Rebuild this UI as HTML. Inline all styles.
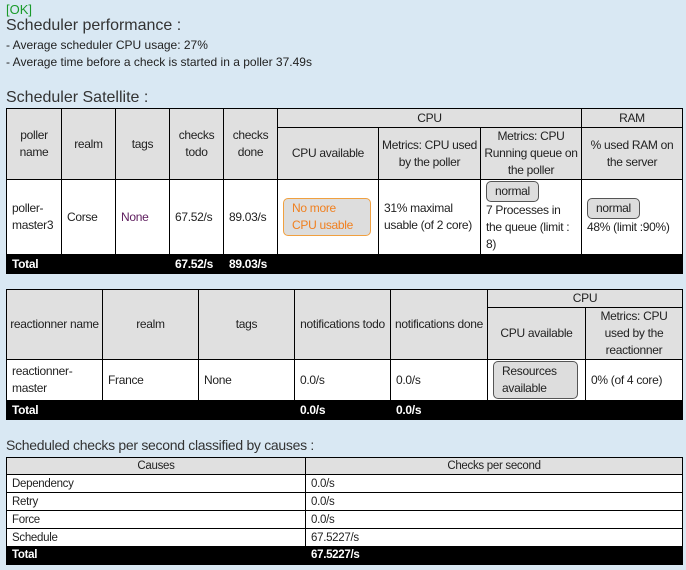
<!DOCTYPE html>
<html><head><meta charset="utf-8"><style>
*{margin:0;padding:0;box-sizing:border-box}
body{width:686px;height:570px;background:#d9e8f3;font-family:"Liberation Sans",sans-serif;font-size:12px;color:#222;position:relative;overflow:hidden}
.a{position:absolute}
table{position:absolute;border-collapse:collapse;table-layout:fixed;background:#fff}
td,th{border:1px solid #000;font-weight:normal;text-align:center;font-size:12px;line-height:17px;padding:0 2px;letter-spacing:-0.3px}
th{background:#e0e0e0}
tr.tot td{background:#000;color:#fff;font-weight:bold;text-align:left;border-color:#000;padding-left:5px;line-height:15px}
td.l{text-align:left;padding-left:5px}
.btn{display:inline-block;background:#ddd;border:1px solid #555;border-radius:5px;padding:1px 8px;text-align:left}
.t3 td,.t3 th{font-size:11.5px;line-height:16px}
</style></head><body>
<div class="a" style="left:6px;top:2px;color:#1a9a2a;font-size:13px">[OK]</div>
<div class="a" style="left:6px;top:17px;font-size:16px;color:#333">Scheduler performance :</div>
<div class="a" style="left:6px;top:38px;font-size:12px">- Average scheduler CPU usage: 27%</div>
<div class="a" style="left:6px;top:55px;font-size:12px">- Average time before a check is started in a poller 37.49s</div>
<div class="a" style="left:6px;top:89px;font-size:16px;color:#333">Scheduler Satellite :</div>

<table style="left:6px;top:108px;width:676px">
<colgroup><col style="width:55px"><col style="width:54px"><col style="width:54px"><col style="width:54px"><col style="width:54px"><col style="width:101px"><col style="width:102px"><col style="width:101px"><col style="width:101px"></colgroup>
<tr style="height:19px"><th rowspan="2">poller name</th><th rowspan="2">realm</th><th rowspan="2">tags</th><th rowspan="2">checks todo</th><th rowspan="2">checks done</th><th colspan="3">CPU</th><th>RAM</th></tr>
<tr style="height:51px"><th>CPU available</th><th style="padding:0">Metrics: CPU used by the poller</th><th style="padding:0">Metrics: CPU Running queue on the poller</th><th>% used RAM on the server</th></tr>
<tr style="height:75px"><td class="l">poller-master3</td><td class="l">Corse</td><td class="l" style="color:#602060">None</td><td class="l">67.52/s</td><td class="l">89.03/s</td>
<td class="l"><span class="btn" style="border-color:#f0a040;color:#f08020;width:88px;line-height:17px">No more CPU usable</span></td>
<td class="l">31% maximal usable (of 2 core)</td>
<td class="l"><span class="btn">normal</span><br>7 Processes in the queue (limit : 8)</td>
<td class="l"><span class="btn">normal</span><br>48% (limit :90%)</td></tr>
<tr class="tot" style="height:19px"><td>Total</td><td></td><td></td><td>67.52/s</td><td>89.03/s</td><td></td><td></td><td></td><td></td></tr>
</table>

<table style="left:6px;top:289px;width:676px">
<colgroup><col style="width:96px"><col style="width:96px"><col style="width:96px"><col style="width:96px"><col style="width:97px"><col style="width:98px"><col style="width:97px"></colgroup>
<tr style="height:18px"><th rowspan="2" style="padding:0">reactionner name</th><th rowspan="2">realm</th><th rowspan="2">tags</th><th rowspan="2" style="padding:0">notifications todo</th><th rowspan="2" style="padding:0">notifications done</th><th colspan="2">CPU</th></tr>
<tr style="height:52px"><th>CPU available</th><th>Metrics: CPU used by the reactionner</th></tr>
<tr style="height:41px"><td class="l">reactionner-master</td><td class="l">France</td><td class="l">None</td><td class="l">0.0/s</td><td class="l">0.0/s</td>
<td class="l"><span class="btn" style="width:85px">Resources available</span></td><td class="l">0% (of 4 core)</td></tr>
<tr class="tot" style="height:19px"><td>Total</td><td></td><td></td><td>0.0/s</td><td>0.0/s</td><td></td><td></td></tr>
</table>

<div class="a" style="left:6px;top:437px;font-size:14px;color:#333;letter-spacing:-0.3px">Scheduled checks per second classified by causes :</div>
<table class="t3" style="left:6px;top:457px;width:676px">
<colgroup><col style="width:299px"><col style="width:377px"></colgroup>
<tr style="height:17px"><th>Causes</th><th>Checks per second</th></tr>
<tr style="height:18px"><td class="l">Dependency</td><td class="l">0.0/s</td></tr>
<tr style="height:18px"><td class="l">Retry</td><td class="l">0.0/s</td></tr>
<tr style="height:18px"><td class="l">Force</td><td class="l">0.0/s</td></tr>
<tr style="height:18px"><td class="l">Schedule</td><td class="l">67.5227/s</td></tr>
<tr class="tot" style="height:18px"><td>Total</td><td>67.5227/s</td></tr>
</table>
</body></html>
